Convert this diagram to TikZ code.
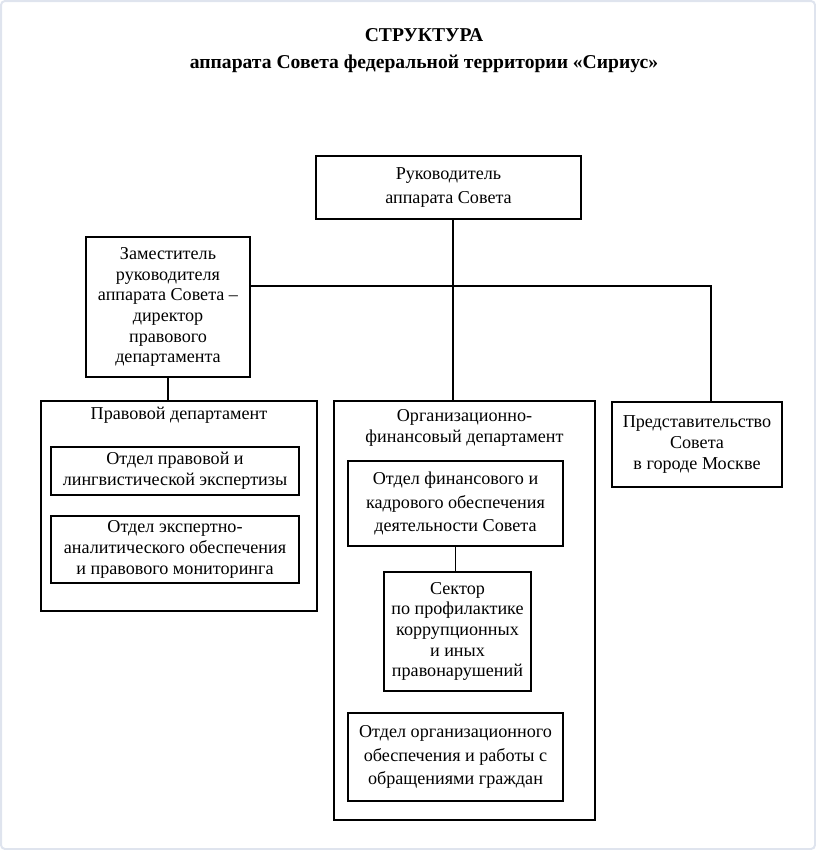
\documentclass[tikz,border=0pt]{standalone}
\usepackage{fontspec}
\setmainfont{Liberation Serif}
\definecolor{frame}{HTML}{DFE4EE}

\begin{document}
\begin{tikzpicture}[x=0.75pt,y=-0.75pt,
  thick,
  boxsize/.style 2 args={minimum width=#1*0.75pt,minimum height=#2*0.75pt},
  box/.style={draw,align=center,inner sep=0pt,font=\fontsize{13.6}{15.5}\selectfont},
  loose/.style={font=\fontsize{13.6}{17.5}\selectfont},
  head/.style={align=center,font=\fontsize{13.6}{15.8}\selectfont}]

  \useasboundingbox (0,0) rectangle (816,850);
  \draw[frame,line width=1.5pt,rounded corners=3pt] (1,1) rectangle (815,849);

  \node[align=center,font=\bfseries\fontsize{14.7}{20.3}\selectfont] (title) at (424,50.5)
    {СТРУКТУРА\\аппарата Совета федеральной территории «Сириус»};

  \node[box,loose,boxsize={265}{63}] (head) at (448.5,187.5) {Руководитель\\аппарата Совета};
  \node[box,boxsize={164}{140}] (deputy) at (168,307)
    {Заместитель\\руководителя\\аппарата Совета –\\директор\\правового\\департамента};

  % legal department
  \node[box,boxsize={276}{210}] (legal) at (179,506) {};
  \node[head] (legalname) at (179,415) {Правовой департамент};
  \node[box,boxsize={248}{48}] (legalA) at (175,471) {Отдел правовой и\\лингвистической экспертизы};
  \node[box,boxsize={248}{67}] (legalB) at (175,549.5)
    {Отдел экспертно-\\аналитического обеспечения\\и правового мониторинга};

  % organisational and finance department
  \node[box,boxsize={261}{419}] (orgfin) at (464.5,610.5) {};
  \node[head] (orgfinname) at (464.5,427.5) {Организационно-\\финансовый департамент};
  \node[box,loose,boxsize={215}{85}] (finance) at (455.5,503.5)
    {Отдел финансового и\\кадрового обеспечения\\деятельности Совета};
  \node[box,boxsize={147}{119}] (sector) at (457.5,631.5)
    {Сектор\\по профилактике\\коррупционных\\и иных\\правонарушений};
  \node[box,loose,boxsize={215}{88}] (appeals) at (455.5,757)
    {Отдел организационного\\обеспечения и работы с\\обращениями граждан};

  \node[box,boxsize={170}{85}] (moscow) at (697,444.5)
    {Представительство\\Совета\\в городе Москве};

  \coordinate (spine) at (453,286);
  \coordinate (branch) at (711,286);
  \draw (head.south -| spine) -- (spine |- orgfin.north);
  \draw (deputy.east |- spine) -- (branch) -- (branch |- moscow.north);
  \draw (deputy.south) -- (deputy.south |- legal.north);
  \draw (finance.south) -- (finance.south |- sector.north);
\end{tikzpicture}
\end{document}
